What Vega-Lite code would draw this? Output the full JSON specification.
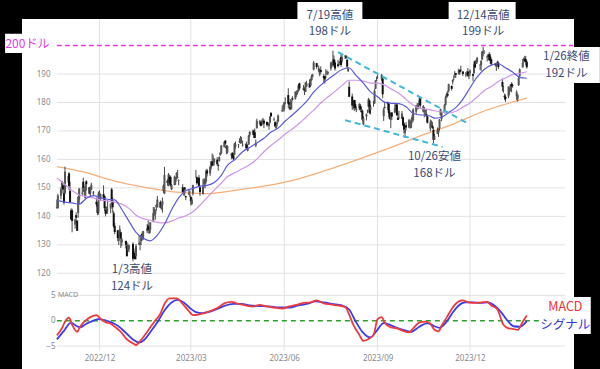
{
"$schema":"https://vega.github.io/schema/vega-lite/v6.json",
"width":552,"height":350,"autosize":"none",
"padding":{"left":22,"top":19,"right":26,"bottom":0},
"background":"#000000",
"config":{"view":{"fill":"#ffffff","stroke":null},"font":"Noto Sans CJK JP","axis":{"zindex":1,"labelOverlap":false,"labelBound":false,"labelFlush":false}},
"datasets":{
"ohlc":[
{"d":"2022-10-20","o":143.0,"h":145.9,"l":142.7,"c":143.4},
{"d":"2022-10-21","o":142.9,"h":147.9,"l":142.7,"c":147.3},
{"d":"2022-10-24","o":147.2,"h":150.2,"l":146.0,"c":149.5},
{"d":"2022-10-25","o":150.1,"h":152.5,"l":149.4,"c":152.3},
{"d":"2022-10-26","o":150.9,"h":151.9,"l":148.0,"c":149.4},
{"d":"2022-10-27","o":148.1,"h":149.1,"l":144.1,"c":144.8},
{"d":"2022-10-28","o":148.2,"h":157.5,"l":147.8,"c":155.7},
{"d":"2022-10-31","o":153.2,"h":154.2,"l":151.9,"c":153.3},
{"d":"2022-11-01","o":155.1,"h":155.5,"l":149.1,"c":150.7},
{"d":"2022-11-02","o":148.9,"h":152.2,"l":145.0,"c":145.0},
{"d":"2022-11-03","o":142.1,"h":142.8,"l":138.8,"c":138.9},
{"d":"2022-11-04","o":142.1,"h":142.7,"l":134.4,"c":138.4},
{"d":"2022-11-07","o":137.1,"h":139.2,"l":135.7,"c":138.9},
{"d":"2022-11-08","o":140.4,"h":141.4,"l":137.5,"c":139.5},
{"d":"2022-11-09","o":138.5,"h":138.6,"l":134.9,"c":134.9},
{"d":"2022-11-10","o":141.2,"h":146.9,"l":139.5,"c":146.9},
{"d":"2022-11-11","o":145.8,"h":150.0,"l":144.4,"c":149.7},
{"d":"2022-11-14","o":148.0,"h":150.3,"l":147.4,"c":148.3},
{"d":"2022-11-15","o":152.2,"h":153.6,"l":148.6,"c":150.0},
{"d":"2022-11-16","o":149.1,"h":149.9,"l":147.3,"c":148.8},
{"d":"2022-11-17","o":146.4,"h":151.5,"l":146.2,"c":150.7},
{"d":"2022-11-18","o":152.3,"h":152.7,"l":149.0,"c":151.3},
{"d":"2022-11-21","o":150.2,"h":150.4,"l":147.7,"c":148.0},
{"d":"2022-11-22","o":148.1,"h":150.4,"l":146.9,"c":150.2},
{"d":"2022-11-23","o":149.5,"h":151.8,"l":149.3,"c":151.1},
{"d":"2022-11-25","o":148.3,"h":148.9,"l":147.1,"c":148.1},
{"d":"2022-11-28","o":145.1,"h":146.6,"l":143.4,"c":144.2},
{"d":"2022-11-29","o":144.3,"h":145.0,"l":140.4,"c":141.2},
{"d":"2022-11-30","o":141.4,"h":148.7,"l":140.6,"c":148.0},
{"d":"2022-12-01","o":148.2,"h":149.1,"l":146.6,"c":148.3},
{"d":"2022-12-02","o":146.0,"h":148.0,"l":145.6,"c":147.8},
{"d":"2022-12-05","o":147.8,"h":150.9,"l":145.8,"c":146.6},
{"d":"2022-12-06","o":147.1,"h":147.3,"l":141.9,"c":142.9},
{"d":"2022-12-07","o":142.2,"h":143.4,"l":140.0,"c":140.9},
{"d":"2022-12-08","o":142.4,"h":143.5,"l":140.9,"c":142.7},
{"d":"2022-12-09","o":142.3,"h":145.6,"l":140.9,"c":142.2},
{"d":"2022-12-12","o":142.7,"h":144.5,"l":141.1,"c":144.5},
{"d":"2022-12-13","o":149.5,"h":150.0,"l":144.2,"c":145.5},
{"d":"2022-12-14","o":145.4,"h":146.7,"l":141.2,"c":143.2},
{"d":"2022-12-15","o":141.1,"h":141.8,"l":136.0,"c":136.5},
{"d":"2022-12-16","o":136.7,"h":137.7,"l":133.7,"c":134.5},
{"d":"2022-12-19","o":135.1,"h":135.2,"l":131.3,"c":132.4},
{"d":"2022-12-20","o":131.4,"h":133.3,"l":129.9,"c":132.3},
{"d":"2022-12-21","o":133.0,"h":136.8,"l":132.2,"c":135.5},
{"d":"2022-12-22","o":134.4,"h":134.6,"l":128.9,"c":132.2},
{"d":"2022-12-23","o":130.9,"h":132.4,"l":129.6,"c":131.9},
{"d":"2022-12-27","o":131.4,"h":131.4,"l":128.7,"c":130.0},
{"d":"2022-12-28","o":129.7,"h":131.0,"l":125.9,"c":126.0},
{"d":"2022-12-29","o":128.0,"h":130.5,"l":127.7,"c":129.6},
{"d":"2022-12-30","o":128.4,"h":130.0,"l":127.4,"c":129.9},
{"d":"2023-01-03","o":130.3,"h":130.9,"l":124.2,"c":125.1},
{"d":"2023-01-04","o":126.9,"h":128.7,"l":125.1,"c":126.4},
{"d":"2023-01-05","o":127.1,"h":127.8,"l":124.8,"c":125.0},
{"d":"2023-01-06","o":126.0,"h":130.3,"l":124.9,"c":129.6},
{"d":"2023-01-09","o":130.5,"h":133.4,"l":129.9,"c":130.2},
{"d":"2023-01-10","o":130.3,"h":131.3,"l":128.1,"c":130.7},
{"d":"2023-01-11","o":131.3,"h":133.5,"l":129.9,"c":133.5},
{"d":"2023-01-12","o":133.9,"h":134.3,"l":131.4,"c":133.4},
{"d":"2023-01-13","o":132.0,"h":134.9,"l":131.7,"c":134.8},
{"d":"2023-01-17","o":134.8,"h":137.3,"l":134.1,"c":135.9},
{"d":"2023-01-18","o":136.8,"h":138.6,"l":135.0,"c":135.2},
{"d":"2023-01-19","o":134.1,"h":136.3,"l":133.8,"c":135.3},
{"d":"2023-01-20","o":135.3,"h":138.0,"l":134.2,"c":137.9},
{"d":"2023-01-23","o":138.1,"h":143.3,"l":137.9,"c":141.1},
{"d":"2023-01-24","o":140.3,"h":143.2,"l":140.3,"c":142.5},
{"d":"2023-01-25","o":140.9,"h":142.4,"l":138.8,"c":141.9},
{"d":"2023-01-26","o":143.2,"h":144.3,"l":141.9,"c":144.0},
{"d":"2023-01-27","o":143.2,"h":147.2,"l":143.1,"c":145.9},
{"d":"2023-01-30","o":145.0,"h":145.6,"l":142.9,"c":143.0},
{"d":"2023-01-31","o":142.7,"h":144.3,"l":142.3,"c":144.3},
{"d":"2023-02-01","o":144.0,"h":146.6,"l":141.3,"c":145.4},
{"d":"2023-02-02","o":148.9,"h":151.2,"l":148.2,"c":150.8},
{"d":"2023-02-03","o":148.0,"h":157.4,"l":147.8,"c":154.5},
{"d":"2023-02-06","o":152.6,"h":153.1,"l":150.8,"c":151.7},
{"d":"2023-02-07","o":150.6,"h":155.2,"l":150.6,"c":154.7},
{"d":"2023-02-08","o":153.9,"h":154.6,"l":151.2,"c":151.9},
{"d":"2023-02-09","o":153.8,"h":154.3,"l":150.4,"c":150.9},
{"d":"2023-02-10","o":149.5,"h":151.3,"l":149.2,"c":151.0},
{"d":"2023-02-13","o":151.0,"h":154.3,"l":150.9,"c":153.9},
{"d":"2023-02-14","o":152.1,"h":153.8,"l":151.0,"c":153.2},
{"d":"2023-02-15","o":153.1,"h":155.5,"l":152.9,"c":155.3},
{"d":"2023-02-16","o":153.5,"h":156.3,"l":153.5,"c":153.7},
{"d":"2023-02-17","o":152.4,"h":153.0,"l":150.9,"c":152.6},
{"d":"2023-02-21","o":150.2,"h":151.3,"l":148.4,"c":148.5},
{"d":"2023-02-22","o":148.9,"h":150.0,"l":147.2,"c":148.9},
{"d":"2023-02-23","o":150.1,"h":150.3,"l":147.2,"c":149.4},
{"d":"2023-02-24","o":147.1,"h":147.2,"l":145.7,"c":146.7},
{"d":"2023-02-27","o":147.7,"h":149.2,"l":147.5,"c":147.9},
{"d":"2023-02-28","o":147.1,"h":149.1,"l":146.8,"c":147.4},
{"d":"2023-03-01","o":146.8,"h":147.2,"l":143.9,"c":145.3},
{"d":"2023-03-02","o":144.4,"h":146.7,"l":143.9,"c":145.9},
{"d":"2023-03-03","o":148.0,"h":151.1,"l":147.3,"c":151.0},
{"d":"2023-03-06","o":153.8,"h":156.3,"l":153.5,"c":153.8},
{"d":"2023-03-07","o":153.7,"h":154.0,"l":151.1,"c":151.6},
{"d":"2023-03-08","o":152.8,"h":153.5,"l":151.8,"c":152.9},
{"d":"2023-03-09","o":153.6,"h":154.5,"l":150.2,"c":150.6},
{"d":"2023-03-10","o":150.2,"h":150.9,"l":147.2,"c":148.5},
{"d":"2023-03-13","o":147.8,"h":153.1,"l":147.7,"c":150.5},
{"d":"2023-03-14","o":151.3,"h":153.4,"l":150.1,"c":152.6},
{"d":"2023-03-15","o":151.2,"h":153.2,"l":149.9,"c":153.0},
{"d":"2023-03-16","o":152.2,"h":156.5,"l":151.6,"c":155.9},
{"d":"2023-03-17","o":156.1,"h":156.7,"l":154.0,"c":155.0},
{"d":"2023-03-20","o":155.1,"h":157.8,"l":154.2,"c":157.4},
{"d":"2023-03-21","o":157.3,"h":159.4,"l":156.5,"c":159.3},
{"d":"2023-03-22","o":159.3,"h":162.1,"l":157.8,"c":157.8},
{"d":"2023-03-23","o":158.8,"h":161.6,"l":157.7,"c":158.9},
{"d":"2023-03-24","o":158.9,"h":160.3,"l":157.9,"c":160.3},
{"d":"2023-03-27","o":159.9,"h":160.8,"l":157.9,"c":158.3},
{"d":"2023-03-28","o":158.0,"h":158.5,"l":156.0,"c":157.7},
{"d":"2023-03-29","o":159.4,"h":161.1,"l":159.2,"c":160.8},
{"d":"2023-03-30","o":161.5,"h":162.5,"l":161.3,"c":162.4},
{"d":"2023-03-31","o":162.4,"h":165.0,"l":161.9,"c":164.9},
{"d":"2023-04-03","o":164.3,"h":166.3,"l":164.2,"c":166.2},
{"d":"2023-04-04","o":166.6,"h":166.8,"l":165.1,"c":165.6},
{"d":"2023-04-05","o":164.7,"h":165.1,"l":161.8,"c":163.8},
{"d":"2023-04-06","o":162.4,"h":165.0,"l":162.0,"c":164.7},
{"d":"2023-04-10","o":161.4,"h":162.0,"l":160.1,"c":162.0},
{"d":"2023-04-11","o":162.4,"h":162.4,"l":160.5,"c":160.8},
{"d":"2023-04-12","o":161.2,"h":162.1,"l":159.8,"c":160.1},
{"d":"2023-04-13","o":161.6,"h":165.8,"l":161.4,"c":165.6},
{"d":"2023-04-14","o":164.6,"h":166.3,"l":163.8,"c":165.2},
{"d":"2023-04-17","o":165.1,"h":165.4,"l":164.0,"c":165.2},
{"d":"2023-04-18","o":166.1,"h":167.4,"l":165.7,"c":166.5},
{"d":"2023-04-19","o":165.8,"h":168.2,"l":165.5,"c":167.6},
{"d":"2023-04-20","o":166.1,"h":167.9,"l":165.6,"c":166.7},
{"d":"2023-04-21","o":165.1,"h":166.5,"l":164.5,"c":165.0},
{"d":"2023-04-24","o":165.0,"h":165.6,"l":163.9,"c":165.3},
{"d":"2023-04-25","o":165.2,"h":166.3,"l":163.7,"c":163.8},
{"d":"2023-04-26","o":163.1,"h":165.3,"l":162.8,"c":163.8},
{"d":"2023-04-27","o":165.2,"h":168.6,"l":165.2,"c":168.4},
{"d":"2023-04-28","o":168.5,"h":169.9,"l":167.9,"c":169.7},
{"d":"2023-05-01","o":169.3,"h":170.5,"l":168.6,"c":169.6},
{"d":"2023-05-02","o":170.1,"h":170.4,"l":167.5,"c":168.5},
{"d":"2023-05-03","o":169.5,"h":170.9,"l":167.5,"c":167.5},
{"d":"2023-05-04","o":164.9,"h":167.0,"l":164.3,"c":165.8},
{"d":"2023-05-05","o":171.0,"h":174.3,"l":170.8,"c":173.6},
{"d":"2023-05-08","o":172.5,"h":173.9,"l":172.1,"c":173.5},
{"d":"2023-05-09","o":173.1,"h":173.5,"l":171.6,"c":171.8},
{"d":"2023-05-10","o":173.0,"h":174.0,"l":171.9,"c":173.6},
{"d":"2023-05-11","o":173.9,"h":174.6,"l":172.2,"c":173.8},
{"d":"2023-05-12","o":173.6,"h":174.1,"l":171.0,"c":172.6},
{"d":"2023-05-15","o":173.2,"h":173.2,"l":171.5,"c":172.1},
{"d":"2023-05-16","o":172.0,"h":173.1,"l":171.8,"c":172.1},
{"d":"2023-05-17","o":171.7,"h":172.9,"l":170.4,"c":172.7},
{"d":"2023-05-18","o":173.0,"h":175.2,"l":172.6,"c":175.1},
{"d":"2023-05-19","o":176.4,"h":176.4,"l":174.9,"c":175.2},
{"d":"2023-05-22","o":174.0,"h":174.7,"l":173.5,"c":174.2},
{"d":"2023-05-23","o":173.1,"h":173.4,"l":171.3,"c":171.6},
{"d":"2023-05-24","o":171.1,"h":172.4,"l":170.5,"c":171.8},
{"d":"2023-05-25","o":172.4,"h":173.9,"l":171.7,"c":173.0},
{"d":"2023-05-26","o":173.3,"h":175.8,"l":173.1,"c":175.4},
{"d":"2023-05-30","o":177.0,"h":179.0,"l":176.6,"c":177.3},
{"d":"2023-05-31","o":177.3,"h":179.4,"l":176.8,"c":177.3},
{"d":"2023-06-01","o":177.7,"h":180.1,"l":176.9,"c":180.1},
{"d":"2023-06-02","o":181.0,"h":181.8,"l":179.3,"c":181.0},
{"d":"2023-06-05","o":182.6,"h":185.0,"l":178.0,"c":179.6},
{"d":"2023-06-06","o":180.0,"h":180.1,"l":177.4,"c":179.2},
{"d":"2023-06-07","o":178.4,"h":181.2,"l":177.3,"c":177.8},
{"d":"2023-06-08","o":177.9,"h":180.8,"l":177.5,"c":180.6},
{"d":"2023-06-09","o":181.5,"h":182.2,"l":180.6,"c":181.0},
{"d":"2023-06-12","o":181.3,"h":183.9,"l":181.0,"c":183.8},
{"d":"2023-06-13","o":182.8,"h":184.2,"l":182.0,"c":183.3},
{"d":"2023-06-14","o":183.4,"h":184.4,"l":182.7,"c":184.0},
{"d":"2023-06-15","o":184.0,"h":186.5,"l":183.8,"c":186.0},
{"d":"2023-06-16","o":186.7,"h":187.0,"l":184.3,"c":184.9},
{"d":"2023-06-20","o":184.4,"h":186.1,"l":184.4,"c":185.0},
{"d":"2023-06-21","o":184.9,"h":185.4,"l":182.6,"c":184.0},
{"d":"2023-06-22","o":183.7,"h":187.1,"l":183.7,"c":187.0},
{"d":"2023-06-23","o":185.6,"h":187.6,"l":185.5,"c":186.7},
{"d":"2023-06-26","o":186.8,"h":188.1,"l":185.2,"c":185.3},
{"d":"2023-06-27","o":185.9,"h":188.4,"l":185.7,"c":188.1},
{"d":"2023-06-28","o":187.9,"h":189.9,"l":187.6,"c":189.3},
{"d":"2023-06-29","o":189.1,"h":190.1,"l":188.9,"c":189.6},
{"d":"2023-06-30","o":191.6,"h":194.5,"l":191.3,"c":194.0},
{"d":"2023-07-03","o":193.8,"h":193.9,"l":191.8,"c":192.5},
{"d":"2023-07-05","o":191.6,"h":193.0,"l":190.6,"c":191.3},
{"d":"2023-07-06","o":189.8,"h":192.0,"l":189.2,"c":191.8},
{"d":"2023-07-07","o":191.4,"h":192.7,"l":190.2,"c":190.7},
{"d":"2023-07-10","o":189.3,"h":190.0,"l":187.0,"c":188.6},
{"d":"2023-07-11","o":189.2,"h":189.3,"l":186.6,"c":188.1},
{"d":"2023-07-12","o":189.7,"h":191.7,"l":188.5,"c":189.8},
{"d":"2023-07-13","o":190.5,"h":191.2,"l":189.8,"c":190.5},
{"d":"2023-07-14","o":190.2,"h":191.2,"l":189.6,"c":190.7},
{"d":"2023-07-17","o":191.9,"h":194.3,"l":191.2,"c":194.0},
{"d":"2023-07-18","o":193.4,"h":194.3,"l":192.4,"c":193.7},
{"d":"2023-07-19","o":193.1,"h":198.2,"l":192.7,"c":195.1},
{"d":"2023-07-20","o":195.1,"h":196.5,"l":192.5,"c":193.1},
{"d":"2023-07-21","o":194.1,"h":195.0,"l":191.2,"c":191.9},
{"d":"2023-07-24","o":193.4,"h":194.9,"l":192.3,"c":192.8},
{"d":"2023-07-25","o":193.3,"h":194.4,"l":192.9,"c":193.6},
{"d":"2023-07-26","o":193.7,"h":195.6,"l":193.3,"c":194.5},
{"d":"2023-07-27","o":196.0,"h":197.2,"l":192.5,"c":193.2},
{"d":"2023-07-28","o":194.7,"h":196.6,"l":194.1,"c":195.8},
{"d":"2023-07-31","o":196.1,"h":196.5,"l":195.3,"c":196.5},
{"d":"2023-08-01","o":196.2,"h":196.7,"l":195.3,"c":195.6},
{"d":"2023-08-02","o":195.0,"h":195.2,"l":191.9,"c":192.6},
{"d":"2023-08-03","o":191.6,"h":192.4,"l":190.7,"c":191.2},
{"d":"2023-08-04","o":185.5,"h":187.4,"l":181.9,"c":182.0},
{"d":"2023-08-07","o":182.1,"h":183.1,"l":177.4,"c":178.9},
{"d":"2023-08-08","o":179.7,"h":180.3,"l":177.6,"c":179.8},
{"d":"2023-08-09","o":180.9,"h":180.9,"l":177.0,"c":178.2},
{"d":"2023-08-10","o":179.5,"h":180.8,"l":177.6,"c":178.0},
{"d":"2023-08-11","o":177.3,"h":178.6,"l":176.6,"c":177.8},
{"d":"2023-08-14","o":178.0,"h":179.7,"l":177.3,"c":179.5},
{"d":"2023-08-15","o":178.9,"h":179.5,"l":177.1,"c":177.5},
{"d":"2023-08-16","o":177.1,"h":178.5,"l":176.5,"c":176.6},
{"d":"2023-08-17","o":177.1,"h":177.5,"l":173.5,"c":174.0},
{"d":"2023-08-18","o":172.3,"h":175.1,"l":172.0,"c":174.5},
{"d":"2023-08-21","o":175.1,"h":176.1,"l":173.7,"c":175.8},
{"d":"2023-08-22","o":177.1,"h":177.5,"l":176.2,"c":177.2},
{"d":"2023-08-23","o":178.5,"h":181.6,"l":178.3,"c":181.1},
{"d":"2023-08-24","o":180.7,"h":181.1,"l":176.0,"c":176.4},
{"d":"2023-08-25","o":177.4,"h":179.2,"l":175.8,"c":178.6},
{"d":"2023-08-28","o":180.1,"h":180.6,"l":178.5,"c":180.2},
{"d":"2023-08-29","o":179.7,"h":184.9,"l":179.5,"c":184.1},
{"d":"2023-08-30","o":184.9,"h":187.9,"l":184.7,"c":187.7},
{"d":"2023-08-31","o":187.8,"h":189.1,"l":187.5,"c":187.9},
{"d":"2023-09-01","o":189.5,"h":189.9,"l":188.3,"c":189.5},
{"d":"2023-09-05","o":188.3,"h":190.0,"l":187.6,"c":189.7},
{"d":"2023-09-06","o":188.4,"h":188.9,"l":181.5,"c":182.9},
{"d":"2023-09-07","o":175.2,"h":178.2,"l":173.5,"c":177.6},
{"d":"2023-09-08","o":178.4,"h":180.2,"l":177.8,"c":178.2},
{"d":"2023-09-11","o":180.1,"h":180.3,"l":177.3,"c":179.4},
{"d":"2023-09-12","o":179.5,"h":180.1,"l":174.8,"c":176.3},
{"d":"2023-09-13","o":176.5,"h":177.3,"l":174.0,"c":174.2},
{"d":"2023-09-14","o":174.0,"h":176.1,"l":171.0,"c":175.7},
{"d":"2023-09-15","o":176.5,"h":176.5,"l":173.8,"c":175.0},
{"d":"2023-09-18","o":176.5,"h":179.4,"l":176.2,"c":178.0},
{"d":"2023-09-19","o":177.5,"h":179.6,"l":177.1,"c":179.1},
{"d":"2023-09-20","o":179.3,"h":179.7,"l":175.4,"c":175.5},
{"d":"2023-09-21","o":174.6,"h":176.3,"l":173.9,"c":173.9},
{"d":"2023-09-22","o":174.7,"h":177.1,"l":174.1,"c":174.8},
{"d":"2023-09-25","o":174.2,"h":177.0,"l":174.2,"c":176.1},
{"d":"2023-09-26","o":174.8,"h":175.2,"l":171.7,"c":172.0},
{"d":"2023-09-27","o":172.6,"h":173.0,"l":169.1,"c":170.4},
{"d":"2023-09-28","o":169.3,"h":172.0,"l":167.6,"c":170.7},
{"d":"2023-09-29","o":172.0,"h":173.1,"l":170.3,"c":171.2},
{"d":"2023-10-02","o":171.2,"h":174.3,"l":171.0,"c":173.8},
{"d":"2023-10-03","o":172.3,"h":173.6,"l":170.8,"c":172.4},
{"d":"2023-10-04","o":171.1,"h":174.2,"l":171.0,"c":173.7},
{"d":"2023-10-05","o":173.8,"h":175.5,"l":172.7,"c":174.9},
{"d":"2023-10-06","o":173.8,"h":178.0,"l":173.2,"c":177.5},
{"d":"2023-10-09","o":176.8,"h":179.1,"l":175.8,"c":179.0},
{"d":"2023-10-10","o":178.1,"h":179.7,"l":177.6,"c":178.4},
{"d":"2023-10-11","o":178.2,"h":179.9,"l":177.6,"c":179.8},
{"d":"2023-10-12","o":180.1,"h":182.3,"l":179.0,"c":180.7},
{"d":"2023-10-13","o":181.4,"h":181.9,"l":178.1,"c":178.9},
{"d":"2023-10-16","o":176.8,"h":179.1,"l":176.5,"c":178.7},
{"d":"2023-10-17","o":176.7,"h":178.4,"l":174.8,"c":177.2},
{"d":"2023-10-18","o":175.6,"h":177.6,"l":175.1,"c":175.8},
{"d":"2023-10-19","o":176.0,"h":177.8,"l":175.2,"c":175.5},
{"d":"2023-10-20","o":175.3,"h":175.4,"l":172.6,"c":172.9},
{"d":"2023-10-23","o":170.9,"h":174.0,"l":169.9,"c":173.0},
{"d":"2023-10-24","o":173.1,"h":173.7,"l":171.5,"c":173.4},
{"d":"2023-10-25","o":171.9,"h":173.1,"l":170.7,"c":171.1},
{"d":"2023-10-26","o":170.4,"h":171.4,"l":165.7,"c":166.9},
{"d":"2023-10-27","o":166.9,"h":169.0,"l":166.8,"c":168.2},
{"d":"2023-10-30","o":169.0,"h":171.2,"l":168.9,"c":170.3},
{"d":"2023-10-31","o":169.4,"h":170.9,"l":167.9,"c":170.8},
{"d":"2023-11-01","o":171.0,"h":174.2,"l":170.1,"c":174.0},
{"d":"2023-11-02","o":175.5,"h":177.8,"l":175.5,"c":177.6},
{"d":"2023-11-03","o":174.2,"h":176.8,"l":173.4,"c":176.7},
{"d":"2023-11-06","o":176.4,"h":179.4,"l":176.2,"c":179.2},
{"d":"2023-11-07","o":179.2,"h":182.4,"l":179.0,"c":181.8},
{"d":"2023-11-08","o":182.4,"h":183.5,"l":181.6,"c":182.9},
{"d":"2023-11-09","o":183.0,"h":184.1,"l":181.8,"c":182.4},
{"d":"2023-11-10","o":184.0,"h":186.6,"l":183.5,"c":186.4},
{"d":"2023-11-13","o":185.8,"h":186.0,"l":184.2,"c":184.8},
{"d":"2023-11-14","o":187.7,"h":188.1,"l":186.3,"c":187.4},
{"d":"2023-11-15","o":187.9,"h":189.5,"l":187.8,"c":188.0},
{"d":"2023-11-16","o":189.6,"h":191.0,"l":188.7,"c":189.7},
{"d":"2023-11-17","o":190.3,"h":190.4,"l":188.6,"c":189.7},
{"d":"2023-11-20","o":189.9,"h":191.9,"l":189.9,"c":191.5},
{"d":"2023-11-21","o":191.4,"h":191.5,"l":189.7,"c":190.6},
{"d":"2023-11-22","o":191.5,"h":192.9,"l":190.8,"c":191.3},
{"d":"2023-11-24","o":190.9,"h":190.9,"l":189.3,"c":190.0},
{"d":"2023-11-27","o":189.9,"h":190.7,"l":188.9,"c":189.8},
{"d":"2023-11-28","o":189.8,"h":191.1,"l":189.4,"c":190.4},
{"d":"2023-11-29","o":190.9,"h":192.1,"l":189.0,"c":189.4},
{"d":"2023-11-30","o":189.8,"h":190.3,"l":188.2,"c":190.0},
{"d":"2023-12-01","o":190.3,"h":191.6,"l":189.2,"c":191.2},
{"d":"2023-12-04","o":190.0,"h":190.1,"l":187.5,"c":189.4},
{"d":"2023-12-05","o":190.2,"h":194.4,"l":190.2,"c":193.4},
{"d":"2023-12-06","o":194.5,"h":194.8,"l":192.1,"c":192.3},
{"d":"2023-12-07","o":193.6,"h":195.0,"l":193.6,"c":194.3},
{"d":"2023-12-08","o":194.2,"h":196.0,"l":193.7,"c":195.7},
{"d":"2023-12-11","o":193.1,"h":193.5,"l":191.4,"c":193.2},
{"d":"2023-12-12","o":193.1,"h":194.7,"l":191.1,"c":194.7},
{"d":"2023-12-13","o":195.1,"h":198.0,"l":194.9,"c":198.0},
{"d":"2023-12-14","o":198.0,"h":199.6,"l":196.2,"c":198.1},
{"d":"2023-12-15","o":197.5,"h":198.4,"l":197.0,"c":197.6},
{"d":"2023-12-18","o":196.1,"h":196.6,"l":194.4,"c":195.9},
{"d":"2023-12-19","o":196.2,"h":197.0,"l":195.9,"c":196.9},
{"d":"2023-12-20","o":196.9,"h":197.7,"l":194.8,"c":194.8},
{"d":"2023-12-21","o":196.1,"h":197.1,"l":193.5,"c":194.7},
{"d":"2023-12-22","o":195.2,"h":195.4,"l":193.0,"c":193.6},
{"d":"2023-12-26","o":193.6,"h":193.9,"l":192.8,"c":193.1},
{"d":"2023-12-27","o":192.5,"h":193.5,"l":191.1,"c":193.2},
{"d":"2023-12-28","o":194.1,"h":194.7,"l":193.2,"c":193.6},
{"d":"2023-12-29","o":193.9,"h":194.4,"l":191.7,"c":192.5},
{"d":"2024-01-02","o":187.2,"h":188.4,"l":183.9,"c":185.6},
{"d":"2024-01-03","o":184.2,"h":185.9,"l":183.4,"c":184.3},
{"d":"2024-01-04","o":182.2,"h":183.1,"l":180.9,"c":181.9},
{"d":"2024-01-05","o":182.0,"h":182.8,"l":180.2,"c":181.2},
{"d":"2024-01-08","o":182.1,"h":185.6,"l":181.5,"c":185.6},
{"d":"2024-01-09","o":183.9,"h":185.2,"l":182.7,"c":185.1},
{"d":"2024-01-10","o":184.4,"h":186.4,"l":183.9,"c":186.2},
{"d":"2024-01-11","o":186.5,"h":187.1,"l":183.6,"c":185.6},
{"d":"2024-01-12","o":186.1,"h":186.7,"l":185.2,"c":185.9},
{"d":"2024-01-16","o":182.2,"h":184.3,"l":180.9,"c":183.6},
{"d":"2024-01-17","o":181.3,"h":182.9,"l":180.3,"c":182.7},
{"d":"2024-01-18","o":186.1,"h":189.1,"l":185.8,"c":188.6},
{"d":"2024-01-19","o":189.3,"h":192.0,"l":188.8,"c":191.6},
{"d":"2024-01-22","o":192.3,"h":195.3,"l":192.3,"c":193.9},
{"d":"2024-01-23","o":195.0,"h":195.8,"l":193.8,"c":195.2},
{"d":"2024-01-24","o":195.4,"h":196.4,"l":194.3,"c":194.5},
{"d":"2024-01-25","o":195.2,"h":196.3,"l":193.1,"c":194.2},
{"d":"2024-01-26","o":194.3,"h":194.8,"l":191.9,"c":192.4}
],
"ma25":[
{"d":"2022-10-20","v":145.6},{"d":"2022-10-28","v":145.0},{"d":"2022-11-04","v":144.7},{"d":"2022-11-11","v":144.3},{"d":"2022-11-18","v":146.3},{"d":"2022-11-25","v":147.3},{"d":"2022-12-02","v":146.5},{"d":"2022-12-09","v":146.0},{"d":"2022-12-16","v":145.8},{"d":"2022-12-23","v":142.4},{"d":"2022-12-30","v":138.3},{"d":"2023-01-06","v":134.4},{"d":"2023-01-13","v":132.3},{"d":"2023-01-20","v":131.4},{"d":"2023-01-27","v":133.4},{"d":"2023-02-03","v":137.2},{"d":"2023-02-10","v":142.3},{"d":"2023-02-17","v":146.5},{"d":"2023-02-24","v":149.0},{"d":"2023-03-03","v":149.8},{"d":"2023-03-10","v":150.6},{"d":"2023-03-17","v":150.9},{"d":"2023-03-24","v":151.9},{"d":"2023-03-31","v":154.4},{"d":"2023-04-06","v":157.9},{"d":"2023-04-14","v":160.1},{"d":"2023-04-21","v":162.7},{"d":"2023-04-28","v":164.2},{"d":"2023-05-05","v":165.8},{"d":"2023-05-12","v":167.4},{"d":"2023-05-19","v":169.6},{"d":"2023-05-26","v":171.0},{"d":"2023-06-02","v":173.5},{"d":"2023-06-09","v":175.6},{"d":"2023-06-16","v":177.9},{"d":"2023-06-23","v":180.4},{"d":"2023-06-30","v":183.6},{"d":"2023-07-07","v":186.1},{"d":"2023-07-14","v":188.1},{"d":"2023-07-21","v":189.9},{"d":"2023-07-28","v":191.6},{"d":"2023-08-04","v":192.1},{"d":"2023-08-11","v":189.4},{"d":"2023-08-18","v":186.8},{"d":"2023-08-25","v":183.7},{"d":"2023-09-01","v":182.0},{"d":"2023-09-08","v":180.1},{"d":"2023-09-15","v":179.7},{"d":"2023-09-22","v":179.6},{"d":"2023-09-29","v":178.5},{"d":"2023-10-06","v":176.2},{"d":"2023-10-13","v":175.6},{"d":"2023-10-20","v":175.6},{"d":"2023-10-27","v":174.5},{"d":"2023-11-03","v":174.8},{"d":"2023-11-10","v":176.5},{"d":"2023-11-17","v":178.2},{"d":"2023-11-24","v":181.1},{"d":"2023-12-01","v":185.1},{"d":"2023-12-08","v":188.9},{"d":"2023-12-15","v":191.6},{"d":"2023-12-22","v":193.1},{"d":"2023-12-29","v":193.6},{"d":"2024-01-05","v":192.2},{"d":"2024-01-12","v":190.7},{"d":"2024-01-19","v":188.8},{"d":"2024-01-26","v":188.5}
],
"ma50":[
{"d":"2022-10-20","v":153.5},{"d":"2022-10-28","v":151.2},{"d":"2022-11-04","v":149.1},{"d":"2022-11-11","v":147.5},{"d":"2022-11-18","v":147.0},{"d":"2022-11-25","v":146.5},{"d":"2022-12-02","v":145.7},{"d":"2022-12-09","v":145.4},{"d":"2022-12-16","v":145.0},{"d":"2022-12-23","v":144.3},{"d":"2022-12-30","v":142.8},{"d":"2023-01-06","v":140.4},{"d":"2023-01-13","v":139.2},{"d":"2023-01-20","v":138.6},{"d":"2023-01-27","v":137.9},{"d":"2023-02-03","v":137.7},{"d":"2023-02-10","v":138.3},{"d":"2023-02-17","v":139.4},{"d":"2023-02-24","v":140.2},{"d":"2023-03-03","v":141.6},{"d":"2023-03-10","v":143.9},{"d":"2023-03-17","v":146.6},{"d":"2023-03-24","v":149.2},{"d":"2023-03-31","v":151.7},{"d":"2023-04-06","v":153.9},{"d":"2023-04-14","v":155.4},{"d":"2023-04-21","v":156.8},{"d":"2023-04-28","v":158.1},{"d":"2023-05-05","v":160.1},{"d":"2023-05-12","v":162.7},{"d":"2023-05-19","v":164.9},{"d":"2023-05-26","v":166.8},{"d":"2023-06-02","v":168.9},{"d":"2023-06-09","v":170.7},{"d":"2023-06-16","v":172.7},{"d":"2023-06-23","v":175.0},{"d":"2023-06-30","v":177.3},{"d":"2023-07-07","v":179.8},{"d":"2023-07-14","v":181.9},{"d":"2023-07-21","v":183.9},{"d":"2023-07-28","v":186.0},{"d":"2023-08-04","v":187.8},{"d":"2023-08-11","v":187.8},{"d":"2023-08-18","v":187.5},{"d":"2023-08-25","v":186.8},{"d":"2023-09-01","v":186.8},{"d":"2023-09-08","v":186.1},{"d":"2023-09-15","v":184.6},{"d":"2023-09-22","v":183.2},{"d":"2023-09-29","v":181.1},{"d":"2023-10-06","v":179.1},{"d":"2023-10-13","v":177.9},{"d":"2023-10-20","v":177.6},{"d":"2023-10-27","v":177.1},{"d":"2023-11-03","v":176.7},{"d":"2023-11-10","v":176.3},{"d":"2023-11-17","v":176.9},{"d":"2023-11-24","v":178.4},{"d":"2023-12-01","v":179.8},{"d":"2023-12-08","v":181.9},{"d":"2023-12-15","v":184.1},{"d":"2023-12-22","v":185.6},{"d":"2023-12-29","v":187.4},{"d":"2024-01-05","v":188.6},{"d":"2024-01-12","v":189.8},{"d":"2024-01-19","v":190.2},{"d":"2024-01-26","v":190.8}
],
"ma200":[
{"d":"2022-10-20","v":157.5},{"d":"2022-11-15","v":155.6},{"d":"2022-12-15","v":152.5},{"d":"2023-01-15","v":150.2},{"d":"2023-02-15","v":148.5},{"d":"2023-03-15","v":148.0},{"d":"2023-04-15","v":149.2},{"d":"2023-05-15","v":150.8},{"d":"2023-06-15","v":153.2},{"d":"2023-07-15","v":156.5},{"d":"2023-08-15","v":160.3},{"d":"2023-09-15","v":164.3},{"d":"2023-10-15","v":168.5},{"d":"2023-11-15","v":172.5},{"d":"2023-12-15","v":177.0},{"d":"2024-01-26","v":181.5}
],
"macd":[
{"d":"2022-10-20","v":-2.9},{"d":"2022-10-25","v":-1.5},{"d":"2022-10-28","v":-0.2},{"d":"2022-11-01","v":0.6},{"d":"2022-11-04","v":-0.8},{"d":"2022-11-09","v":-2.2},{"d":"2022-11-11","v":-1.5},{"d":"2022-11-16","v":-0.2},{"d":"2022-11-22","v":0.7},{"d":"2022-11-28","v":1.1},{"d":"2022-12-02","v":0.4},{"d":"2022-12-07","v":-0.3},{"d":"2022-12-12","v":-0.6},{"d":"2022-12-16","v":-1.2},{"d":"2022-12-22","v":-2.2},{"d":"2022-12-28","v":-3.7},{"d":"2023-01-04","v":-4.6},{"d":"2023-01-06","v":-4.8},{"d":"2023-01-11","v":-3.8},{"d":"2023-01-18","v":-1.9},{"d":"2023-01-24","v":-0.2},{"d":"2023-01-30","v":1.4},{"d":"2023-02-03","v":3.3},{"d":"2023-02-08","v":4.4},{"d":"2023-02-15","v":4.4},{"d":"2023-02-21","v":3.3},{"d":"2023-02-27","v":1.9},{"d":"2023-03-03","v":1.1},{"d":"2023-03-08","v":1.2},{"d":"2023-03-14","v":1.5},{"d":"2023-03-20","v":1.9},{"d":"2023-03-27","v":2.5},{"d":"2023-04-03","v":3.4},{"d":"2023-04-10","v":3.7},{"d":"2023-04-17","v":3.3},{"d":"2023-04-24","v":3.0},{"d":"2023-05-01","v":2.8},{"d":"2023-05-08","v":3.1},{"d":"2023-05-15","v":2.8},{"d":"2023-05-22","v":2.6},{"d":"2023-05-30","v":2.4},{"d":"2023-06-06","v":2.8},{"d":"2023-06-13","v":3.1},{"d":"2023-06-20","v":3.5},{"d":"2023-06-27","v":3.6},{"d":"2023-07-03","v":4.0},{"d":"2023-07-10","v":3.4},{"d":"2023-07-17","v":3.2},{"d":"2023-07-24","v":3.0},{"d":"2023-07-31","v":2.7},{"d":"2023-08-04","v":1.2},{"d":"2023-08-08","v":-0.8},{"d":"2023-08-14","v":-2.8},{"d":"2023-08-18","v":-4.0},{"d":"2023-08-23","v":-3.6},{"d":"2023-08-28","v":-2.8},{"d":"2023-09-01","v":0.3},{"d":"2023-09-05","v":0.7},{"d":"2023-09-08","v":-0.4},{"d":"2023-09-14","v":-1.3},{"d":"2023-09-20","v":-1.5},{"d":"2023-09-26","v":-2.0},{"d":"2023-10-02","v":-2.3},{"d":"2023-10-06","v":-1.5},{"d":"2023-10-12","v":-0.4},{"d":"2023-10-18","v":-0.2},{"d":"2023-10-23","v":-0.6},{"d":"2023-10-27","v":-1.8},{"d":"2023-10-31","v":-2.1},{"d":"2023-11-03","v":-1.0},{"d":"2023-11-08","v":0.6},{"d":"2023-11-14","v":2.6},{"d":"2023-11-20","v":3.8},{"d":"2023-11-24","v":4.0},{"d":"2023-11-30","v":3.6},{"d":"2023-12-06","v":3.5},{"d":"2023-12-12","v":3.6},{"d":"2023-12-18","v":3.7},{"d":"2023-12-22","v":3.0},{"d":"2023-12-28","v":2.2},{"d":"2024-01-03","v":-0.8},{"d":"2024-01-08","v":-1.5},{"d":"2024-01-12","v":-1.6},{"d":"2024-01-17","v":-1.8},{"d":"2024-01-22","v":-0.2},{"d":"2024-01-26","v":1.0}
],
"sig":[
{"d":"2022-10-20","v":-3.7},{"d":"2022-10-27","v":-2.0},{"d":"2022-11-03","v":-0.4},{"d":"2022-11-08","v":-1.0},{"d":"2022-11-12","v":-1.3},{"d":"2022-11-18","v":-0.6},{"d":"2022-11-25","v":0.0},{"d":"2022-11-30","v":0.3},{"d":"2022-12-06","v":0.1},{"d":"2022-12-12","v":-0.3},{"d":"2022-12-19","v":-1.0},{"d":"2022-12-27","v":-2.4},{"d":"2023-01-03","v":-3.7},{"d":"2023-01-09","v":-4.3},{"d":"2023-01-14","v":-3.8},{"d":"2023-01-21","v":-2.0},{"d":"2023-01-28","v":0.0},{"d":"2023-02-03","v":2.0},{"d":"2023-02-10","v":3.6},{"d":"2023-02-16","v":4.1},{"d":"2023-02-22","v":3.6},{"d":"2023-02-28","v":2.5},{"d":"2023-03-06","v":1.7},{"d":"2023-03-12","v":1.5},{"d":"2023-03-20","v":1.8},{"d":"2023-03-27","v":2.3},{"d":"2023-04-03","v":2.9},{"d":"2023-04-12","v":3.3},{"d":"2023-04-20","v":3.3},{"d":"2023-04-28","v":3.0},{"d":"2023-05-08","v":2.9},{"d":"2023-05-17","v":2.8},{"d":"2023-05-27","v":2.6},{"d":"2023-06-06","v":2.6},{"d":"2023-06-15","v":3.0},{"d":"2023-06-23","v":3.3},{"d":"2023-07-02","v":3.8},{"d":"2023-07-10","v":3.6},{"d":"2023-07-18","v":3.3},{"d":"2023-07-28","v":3.0},{"d":"2023-08-04","v":2.2},{"d":"2023-08-10","v":0.0},{"d":"2023-08-17","v":-2.2},{"d":"2023-08-25","v":-3.3},{"d":"2023-08-31","v":-2.0},{"d":"2023-09-07","v":-0.5},{"d":"2023-09-14","v":-0.9},{"d":"2023-09-20","v":-1.4},{"d":"2023-09-28","v":-1.9},{"d":"2023-10-04","v":-2.2},{"d":"2023-10-12","v":-1.2},{"d":"2023-10-20","v":-0.5},{"d":"2023-10-27","v":-1.1},{"d":"2023-11-01","v":-1.4},{"d":"2023-11-08","v":-0.2},{"d":"2023-11-14","v":1.6},{"d":"2023-11-20","v":3.0},{"d":"2023-11-26","v":3.6},{"d":"2023-12-04","v":3.6},{"d":"2023-12-12","v":3.5},{"d":"2023-12-18","v":3.6},{"d":"2023-12-25","v":3.0},{"d":"2024-01-01","v":1.6},{"d":"2024-01-07","v":0.0},{"d":"2024-01-13","v":-1.1},{"d":"2024-01-19","v":-1.2},{"d":"2024-01-26","v":-0.1}
],
"trend":[{"g":"u","d":"2023-07-24","p":197.7},{"g":"u","d":"2023-11-28","p":172.8},{"g":"l","d":"2023-07-31","p":173.8},{"g":"l","d":"2023-11-04","p":164.4}],
"boxes":[{"d":"2022-08-30","d2":"2022-10-14","p":204.1,"p2":197.4},{"d":"2023-06-14","d2":"2023-08-17","p":215.3,"p2":202.2},{"d":"2023-11-10","d2":"2024-01-15","p":215.3,"p2":202.2},{"d":"2024-02-02","d2":"2024-04-07","p":199.5,"p2":186.8}],
"macdbox":[{"d":"2024-02-10","d2":"2024-03-29","v":4.67,"v2":-2.62}],
"notes":[{"d":"2023-07-16","p":210.4,"t":"7/19高値"},{"d":"2023-07-16","p":204.6,"t":"198ドル"},{"d":"2023-12-14","p":210.4,"t":"12/14高値"},{"d":"2023-12-14","p":204.6,"t":"199ドル"},{"d":"2024-03-05","p":196.0,"t":"1/26終値"},{"d":"2024-03-05","p":190.0,"t":"192ドル"},{"d":"2023-10-27","p":160.85,"t":"10/26安値"},{"d":"2023-10-27","p":155.0,"t":"168ドル"},{"d":"2023-01-02","p":121.2,"t":"1/3高値"},{"d":"2023-01-02","p":115.3,"t":"124ドル"}],
"note200":[{"d":"2022-09-21","p":200.5,"t":"200ドル"}],
"macdnotes":[{"d":"2024-03-04","v":2.6,"t":"MACD"},{"d":"2024-03-04","v":-0.95,"t":"シグナル"}],
"macdlabel":[{"d":"2022-10-21","v":5.07,"t":"MACD"}],
"vgrid":[{"d":"2022-12-01","v":59.5,"v2":-5.8},{"d":"2023-03-01","v":59.5,"v2":-5.8},{"d":"2023-06-01","v":59.5,"v2":-5.8},{"d":"2023-09-01","v":59.5,"v2":-5.8},{"d":"2023-12-01","v":59.5,"v2":-5.8}],
"pgrid":[{"p":120,"d":"2022-10-20","d2":"2024-03-04"},{"p":130,"d":"2022-10-20","d2":"2024-03-04"},{"p":140,"d":"2022-10-20","d2":"2024-03-04"},{"p":150,"d":"2022-10-20","d2":"2024-03-04"},{"p":160,"d":"2022-10-20","d2":"2024-03-04"},{"p":170,"d":"2022-10-20","d2":"2024-03-04"},{"p":180,"d":"2022-10-20","d2":"2024-03-04"},{"p":190,"d":"2022-10-20","d2":"2024-03-04"}],
"mgrid":[{"v":-5,"d":"2022-10-20","d2":"2024-03-04"},{"v":5,"d":"2022-10-20","d2":"2024-03-04"}],
"zero":[{"v":0,"d":"2022-10-20","d2":"2024-02-09"}],
"lvl200":[{"p":200,"d":"2022-10-20","d2":"2024-03-12"}]
},
"encoding":{"x":{"field":"d","type":"temporal","scale":{"type":"utc","domain":[{"year":2022,"month":9,"date":15,"hours":15,"minutes":36,"utc":true},{"year":2024,"month":3,"date":12,"hours":12,"utc":true}]},"axis":{"values":[{"year":2022,"month":12,"date":1,"utc":true},{"year":2023,"month":3,"date":1,"utc":true},{"year":2023,"month":6,"date":1,"utc":true},{"year":2023,"month":9,"date":1,"utc":true},{"year":2023,"month":12,"date":1,"utc":true}],"format":"%Y/%m","orient":"bottom","offset":-15,"domain":false,"ticks":false,"tickSize":0,"grid":false,"labelPadding":0,"labelFontSize":8,"labelColor":"#8a8a8a","labelFont":"Noto Sans","title":null}}},
"layer":[
{"layer":[
 {"data":{"name":"macdbox"},"mark":{"type":"rect","fill":"#ffffff"},"encoding":{"x2":{"field":"d2"},"y":{"field":"v","type":"quantitative","scale":{"domain":[-9.53,59.5],"zero":false,"nice":false},"axis":{"values":[-5,0,5],"orient":"left","offset":-33,"domain":false,"ticks":false,"tickSize":0,"grid":false,"labelPadding":0,"labelFontSize":8,"labelColor":"#8a8a8a","labelFont":"Noto Sans","title":null}},"y2":{"field":"v2"}}},
 {"data":{"name":"vgrid"},"mark":{"type":"rule","color":"#e2e2e2","strokeWidth":1},"encoding":{"y":{"field":"v","type":"quantitative"},"y2":{"field":"v2"}}},
 {"data":{"name":"mgrid"},"mark":{"type":"rule","color":"#e2e2e2","strokeWidth":1},"encoding":{"x2":{"field":"d2"},"y":{"field":"v","type":"quantitative"}}},
 {"data":{"name":"zero"},"mark":{"type":"rule","color":"#2ca02c","strokeWidth":1.6,"strokeDash":[5,4]},"encoding":{"x2":{"field":"d2"},"y":{"field":"v","type":"quantitative"}}},
 {"data":{"name":"sig"},"mark":{"type":"line","color":"#3b3bef","strokeWidth":1.8,"interpolate":"monotone"},"encoding":{"y":{"field":"v","type":"quantitative"}}},
 {"data":{"name":"macd"},"mark":{"type":"line","color":"#f03a3a","strokeWidth":1.8,"interpolate":"monotone"},"encoding":{"y":{"field":"v","type":"quantitative"}}},
 {"data":{"name":"macdnotes"},"mark":{"type":"text","align":"center","baseline":"middle","fontSize":12.5},"encoding":{"y":{"field":"v","type":"quantitative"},"text":{"field":"t"},"color":{"condition":{"test":"datum.t==='MACD'","value":"#f03030"},"value":"#3535d8"}}},
 {"data":{"name":"macdlabel"},"mark":{"type":"text","align":"left","baseline":"middle","fontSize":7,"font":"Noto Sans","color":"#8a8a8a"},"encoding":{"y":{"field":"v","type":"quantitative"},"text":{"field":"t"}}}
]},
{"layer":[
 {"data":{"name":"boxes"},"mark":{"type":"rect","fill":"#ffffff"},"encoding":{"x2":{"field":"d2"},"y":{"field":"p","type":"quantitative","scale":{"domain":[86.38,209.32],"zero":false,"nice":false},"axis":{"values":[120,130,140,150,160,170,180,190],"orient":"left","offset":-28,"domain":false,"ticks":false,"tickSize":0,"grid":false,"labelPadding":0,"labelFontSize":8,"labelColor":"#8a8a8a","labelFont":"Noto Sans","title":null}},"y2":{"field":"p2"}}},
 {"data":{"name":"pgrid"},"mark":{"type":"rule","color":"#e2e2e2","strokeWidth":1},"encoding":{"x2":{"field":"d2"},"y":{"field":"p","type":"quantitative"}}},
 {"data":{"name":"lvl200"},"mark":{"type":"rule","color":"#e23ee2","strokeWidth":1.6,"strokeDash":[5,3]},"encoding":{"x2":{"field":"d2"},"y":{"field":"p","type":"quantitative"}}},
 {"data":{"name":"ma200"},"mark":{"type":"line","color":"#f5b07a","strokeWidth":1.3,"interpolate":"monotone"},"encoding":{"y":{"field":"v","type":"quantitative"}}},
 {"data":{"name":"ohlc"},"mark":{"type":"rule","color":"#333333","strokeWidth":0.9},"encoding":{"y":{"field":"l","type":"quantitative"},"y2":{"field":"h"}}},
 {"data":{"name":"ohlc"},"mark":{"type":"rule","strokeWidth":2,"strokeCap":"butt"},"encoding":{"y":{"field":"o","type":"quantitative"},"y2":{"field":"c"},"color":{"condition":{"test":"datum.c>=datum.o","value":"#555555"},"value":"#111111"}}},
 {"data":{"name":"ma50"},"mark":{"type":"line","color":"#cf95e6","strokeWidth":1.2,"interpolate":"monotone"},"encoding":{"y":{"field":"v","type":"quantitative"}}},
 {"data":{"name":"ma25"},"mark":{"type":"line","color":"#5a5ad8","strokeWidth":1.2,"interpolate":"monotone"},"encoding":{"y":{"field":"v","type":"quantitative"}}},
 {"data":{"name":"trend"},"mark":{"type":"line","color":"#3fb8d8","strokeWidth":2,"strokeDash":[6,4]},"encoding":{"y":{"field":"p","type":"quantitative"},"detail":{"field":"g"}}},
 {"data":{"name":"notes"},"mark":{"type":"text","align":"center","baseline":"middle","fontSize":11.5,"color":"#3c4a72"},"encoding":{"y":{"field":"p","type":"quantitative"},"text":{"field":"t"}}},
 {"data":{"name":"note200"},"mark":{"type":"text","align":"center","baseline":"middle","fontSize":12,"color":"#e03ee0"},"encoding":{"y":{"field":"p","type":"quantitative"},"text":{"field":"t"}}}
]}
],
"resolve":{"scale":{"y":"independent"}}
}
